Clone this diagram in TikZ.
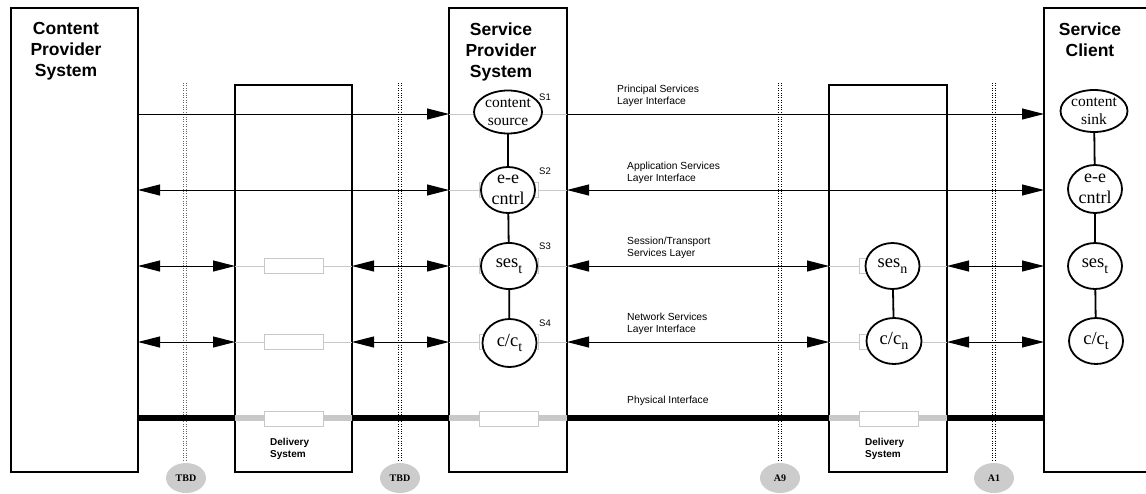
\documentclass[tikz,border=0pt]{standalone}
\usepackage{fontspec}
\setmainfont{Liberation Serif}
\setsansfont{Liberation Sans}
\usetikzlibrary{arrows.meta,shapes.geometric}

\definecolor{pale}{RGB}{200,200,200}
\definecolor{badgegray}{RGB}{204,204,204}
\definecolor{dotgray}{RGB}{100,100,100}

% lowered index letter inside the process ovals
\newcommand{\lowsub}[1]{\raisebox{-0.3em}{\fontsize{14}{14}\selectfont #1}}

\tikzset{
  sysbox/.style={draw, line width=1.2pt, fill=white, inner sep=0pt, outer sep=0pt, anchor=north west},
  systitle/.style={font=\sffamily\bfseries\fontsize{17.5}{21}\selectfont, align=center, anchor=north, inner sep=0pt},
  deltitle/.style={font=\sffamily\bfseries\fontsize{10}{12}\selectfont, align=left, anchor=north west, inner sep=0pt},
  layertext/.style={font=\sffamily\fontsize{10.3}{11.5}\selectfont, align=left, anchor=north west, inner sep=0pt},
  stag/.style={font=\sffamily\fontsize{9.5}{9.5}\selectfont, anchor=north west, inner sep=0pt},
  proc/.style={ellipse, draw, line width=1.8pt, fill=white, inner sep=0pt, outer sep=0pt},
  ptext/.style={align=center, inner sep=0pt, font=\fontsize{18.5}{21}\selectfont},
  ptextsmall/.style={align=center, inner sep=0pt, font=\fontsize{15.5}{18}\selectfont},
  ptextmid/.style={align=center, inner sep=0pt, font=\fontsize{18}{21}\selectfont},
  link/.style={line width=1.8pt},
  wire/.style={line width=1pt},
  graywire/.style={line width=1pt, draw=pale},
  biarrow/.style={wire, {Triangle[length=22pt,width=11pt]}-{Triangle[length=22pt,width=11pt]}},
  fwdarrow/.style={wire, -{Triangle[length=22pt,width=11pt]}},
  bus/.style={line width=6.5pt},
  graybus/.style={line width=6.5pt, draw=pale},
  slot/.style={draw=pale, line width=1pt, fill=white, minimum width=59pt, minimum height=15pt, inner sep=0pt},
  refline/.style={line width=0.9pt, dash pattern=on 1pt off 1.4pt},
  badge/.style={ellipse, fill=badgegray, minimum width=40pt, minimum height=30pt, inner sep=0pt,
                font=\bfseries\fontsize{10}{10}\selectfont},
}

\begin{document}
\begin{tikzpicture}[x=1pt,y=-1pt]
\useasboundingbox (0,0) rectangle (1146,493);
\clip (0,0) rectangle (1146,493);

% systems
\node[sysbox, minimum width=127pt, minimum height=464pt] (cps) at (11,8) {};
\node[sysbox, minimum width=117pt, minimum height=387pt] (dl) at (235,85) {};
\node[sysbox, minimum width=118pt, minimum height=464pt] (sps) at (449,8) {};
\node[sysbox, minimum width=118pt, minimum height=387pt] (dr) at (829,85) {};
\node[sysbox, minimum width=140pt, minimum height=464pt] (sc) at (1044,8) {};

% layer rows
\coordinate (r1) at (0,114);
\coordinate (r2) at (0,190);
\coordinate (r3) at (0,266);
\coordinate (r4) at (0,342);
\coordinate (r5) at (0,418);

% reference points with their badges (each reference line is a pair of dotted rules)
\node[badge] (b1) at (186,478) {TBD};
\node[badge] (b2) at (400,478) {TBD};
\node[badge] (b3) at (780,478) {A9};
\node[badge] (b4) at (994,478) {A1};
\foreach \b/\x/\c in {b1/185/dotgray, b2/400/black, b3/780/black, b4/994/black} {
  \coordinate (\b l) at (\x-1.3,83);
  \coordinate (\b r) at (\x+1.3,83);
  \draw[refline, draw=\c] (\b l) -- (\b l |- 0,461);
  \draw[refline, draw=\c] (\b r) -- (\b r |- 0,461);
}

% pass-through lines inside the systems
\foreach \r in {r1,r2,r3,r4}
  \draw[graywire] (sps.west |- \r) -- (sps.east |- \r);
\foreach \r in {r3,r4} {
  \draw[graywire] (dl.west |- \r) -- (dl.east |- \r);
  \draw[graywire] (dr.west |- \r) -- (dr.east |- \r);
}

% physical interface
\draw[bus] (cps.east |- r5) -- (dl.west |- r5);
\draw[graybus] (dl.west |- r5) -- (dl.east |- r5);
\draw[bus] (dl.east |- r5) -- (sps.west |- r5);
\draw[graybus] (sps.west |- r5) -- (sps.east |- r5);
\draw[bus] (sps.east |- r5) -- (dr.west |- r5);
\draw[graybus] (dr.west |- r5) -- (dr.east |- r5);
\draw[bus] (dr.east |- r5) -- (sc.west |- r5);

% layer interfaces
\draw[fwdarrow] (cps.east |- r1) -- (sps.west |- r1);
\draw[fwdarrow] (sps.east |- r1) -- (sc.west |- r1);
\draw[biarrow] (cps.east |- r2) -- (sps.west |- r2);
\draw[biarrow] (sps.east |- r2) -- (sc.west |- r2);
\foreach \r in {r3,r4} {
  \draw[biarrow] (cps.east |- \r) -- (dl.west |- \r);
  \draw[biarrow] (dl.east |- \r) -- (sps.west |- \r);
  \draw[biarrow] (sps.east |- \r) -- (dr.west |- \r);
  \draw[biarrow] (dr.east |- \r) -- (sc.west |- \r);
}

% interface slots
\node[slot] (dl3) at (293.5,266) {};
\node[slot] (dl4) at (293.5,342) {};
\node[slot] (dl5) at (293.5,419) {};
\node[slot] (sp2) at (509,190) {};
\node[slot] (sp3) at (509,266) {};
\node[slot] (sp4) at (509,342) {};
\node[slot] (sp5) at (508.5,419) {};
\node[slot] (dr3) at (888.5,266) {};
\node[slot] (dr4) at (888.5,342) {};
\node[slot] (dr5) at (888.5,419) {};

% service provider stack
\node[proc, minimum width=68pt, minimum height=43pt] (src) at (508,112) {};
\node[proc, minimum width=54pt, minimum height=46pt] (ee1) at (508,190) {};
\node[proc, minimum width=56pt, minimum height=46pt] (st1) at (509,266) {};
\node[proc, minimum width=54pt, minimum height=48pt] (ct1) at (509.5,343) {};
\draw[link] (src) -- (ee1);
\draw[link] (ee1) -- (st1);
\draw[link] (st1) -- (ct1);
\node[ptextsmall] (srct) at (src) {content\\source};
\node[ptextmid] (ee1t) at (ee1) {e-e\\cntrl};
\node[ptext] (st1t) at (st1) {ses\lowsub{t}};
\node[ptext] (ct1t) at (ct1) {c/c\lowsub{t}};

% delivery system stack
\node[proc, minimum width=54pt, minimum height=46pt] (sn) at (892.5,266) {};
\node[proc, minimum width=55pt, minimum height=46pt] (cn) at (894,341) {};
\draw[link] (sn) -- (cn);
\node[ptext] (snt) at (sn) {ses\lowsub{n}};
\node[ptext] (cnt) at (cn) {c/c\lowsub{n}};

% client stack
\node[proc, minimum width=67pt, minimum height=42pt] (snk) at (1094,111) {};
\node[proc, minimum width=54pt, minimum height=48pt] (ee2) at (1095,189) {};
\node[proc, minimum width=54pt, minimum height=46pt] (st2) at (1095,266) {};
\node[proc, minimum width=54pt, minimum height=46pt] (ct2) at (1096,341) {};
\draw[link] (snk) -- (ee2);
\draw[link] (ee2) -- (st2);
\draw[link] (st2) -- (ct2);
\node[ptextsmall] (snkt) at (snk) {content\\sink};
\node[ptextmid] (ee2t) at (ee2) {e-e\\cntrl};
\node[ptext] (st2t) at (st2) {ses\lowsub{t}};
\node[ptext] (ct2t) at (ct2) {c/c\lowsub{t}};

% service access points
\node[stag] (s1) at (539,94) {S1};
\node[stag] (s2) at (539,168) {S2};
\node[stag] (s3) at (539,243) {S3};
\node[stag] (s4) at (539,320) {S4};

% interface names
\node[layertext] (l1) at (617,85) {Principal Services\\Layer Interface};
\node[layertext] (l2) at (627,162) {Application Services\\Layer Interface};
\node[layertext] (l3) at (627,237) {Session/Transport\\Services Layer};
\node[layertext] (l4) at (627,313) {Network Services\\Layer Interface};
\node[layertext] (l5) at (627,396) {Physical Interface};

% system titles
\node[systitle] (cpst) at (66,22.5) {Content\\Provider\\System};
\node[systitle] (spst) at (501,22.5) {Service\\Provider\\System};
\node[systitle] (sct) at (1090,22.5) {Service\\Client};
\node[deltitle] (dlt) at (270,438) {Delivery\\System};
\node[deltitle] (drt) at (865,438) {Delivery\\System};
\end{tikzpicture}
\end{document}
